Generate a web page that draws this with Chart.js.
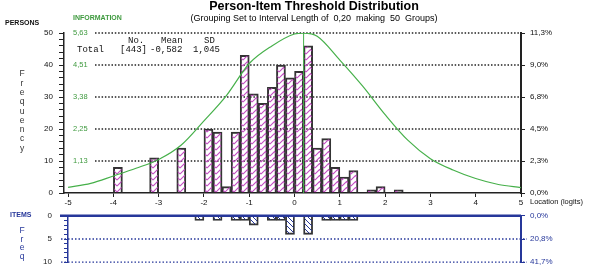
<!DOCTYPE html>
<html lang="en">
<head>
<meta charset="UTF-8">
<title>Person-Item Threshold Distribution</title>
<script src="https://cdn.jsdelivr.net/npm/chart.js"></script>
<style>
  body { margin: 0; background: #fff; }
  #wrap { position: relative; width: 589px; height: 269px; }
  canvas { position: absolute; left: 0; }
  #personsCanvas { top: 0; }
  #itemsCanvas { top: 199px; }
</style>
</head>
<body>
<div id="wrap">
  <canvas id="personsCanvas" width="589" height="269"></canvas>
  <canvas id="itemsCanvas" width="589" height="80"></canvas>
</div>
<script>
// persons: bin centres (interval 0.20 logits) and frequencies
const personLocations = [-3.9, -3.1, -2.5, -1.9, -1.7, -1.5, -1.3, -1.1, -0.9, -0.7, -0.5, -0.3, -0.1, 0.1, 0.3, 0.5, 0.7, 0.9, 1.1, 1.3, 1.7, 1.9, 2.3];
const personCounts = [8, 11, 14, 20, 19, 2, 19, 43, 31, 28, 33, 40, 36, 38, 46, 14, 17, 8, 5, 7, 1, 2, 1];
const personTotal = 443;
const personMean = "-0,582";
const personSD = "1,045";

// items: threshold bin centres and frequencies
const itemLocations = [-2.1, -1.7, -1.3, -1.1, -0.9, -0.5, -0.3, -0.1, 0.3, 0.7, 0.9, 1.1, 1.3];
const itemCounts = [1, 1, 1, 1, 2, 1, 1, 4, 4, 1, 1, 1, 1];
const itemTotal = 24;

// test information curve
const infoLocations = [-5, -4.5, -4, -3.5, -3, -2.5, -2, -1.5, -1, -0.5, 0, 0.2, 0.5, 1, 1.5, 2, 2.5, 3, 3.5, 4, 4.5, 5];
const infoValues = [0.20, 0.34, 0.60, 0.87, 1.18, 1.69, 2.54, 3.44, 4.56, 5.18, 5.60, 5.63, 5.52, 4.68, 3.77, 2.76, 1.86, 1.21, 0.81, 0.51, 0.30, 0.19];
const infoMax = 5.634;
const infoPeak = 0.2;

const FONT = '"Liberation Sans", Arial, sans-serif';
const MONO = '"Liberation Mono", "DejaVu Sans Mono", monospace';
const GREEN = '#46b04a';
const GREEN_TXT = '#3f9a3f';
const NAVY = '#26379a';

function pct(v, total) {
  return (v / total * 100).toFixed(1).replace('.', ',') + '%';
}

function makeHatch(color, kind) {
  const c = document.createElement('canvas');
  const g = c.getContext('2d');
  if (kind === 'chevron') {
    c.width = 9; c.height = 6;
    g.strokeStyle = color;
    g.lineWidth = 1.1;
    g.beginPath();
    for (let oy = -6; oy <= 6; oy += 6) {
      g.moveTo(0, oy + 6); g.lineTo(4.5, oy + 1.5); g.lineTo(9, oy + 6);
    }
    g.stroke();
  } else {
    c.width = 5; c.height = 5;
    g.strokeStyle = color;
    g.lineWidth = 1;
    g.beginPath();
    g.moveTo(-1, -1); g.lineTo(6, 6);
    g.moveTo(-1, 4); g.lineTo(1, 6);
    g.moveTo(4, -1); g.lineTo(6, 1);
    g.stroke();
  }
  return g.createPattern(c, 'repeat');
}

const hatchPink = makeHatch('#c24cc2', 'chevron');
const hatchBlue = makeHatch(NAVY, 'back');

function txt(ctx, s, x, y, font, color, align) {
  ctx.font = font;
  ctx.fillStyle = color;
  ctx.textAlign = align || 'left';
  ctx.textBaseline = 'middle';
  ctx.fillText(s, x, y);
}

const personsDecor = {
  id: 'personsDecor',
  beforeDatasetsDraw(chart) {
    const ctx = chart.ctx, area = chart.chartArea;
    const ys = chart.scales.y, yi = chart.scales.yInfo;
    ctx.save();
    ctx.strokeStyle = '#222';
    ctx.lineWidth = 1.5;
    ctx.setLineDash([1.5, 1.8]);
    for (let v = 10; v <= 50; v += 10) {
      const y = ys.getPixelForValue(v);
      ctx.beginPath();
      ctx.moveTo(95, y);
      ctx.lineTo(area.right - 2, y);
      ctx.stroke();
    }
    ctx.setLineDash([]);
    for (let k = 1; k <= 5; k++) {
      const val = infoMax * k / 5;
      txt(ctx, val.toFixed(2).replace('.', ','), 73, yi.getPixelForValue(val), '7.5px ' + FONT, GREEN_TXT);
    }
    ctx.restore();
  },
  afterDraw(chart) {
    const ctx = chart.ctx;
    ctx.save();
    txt(ctx, 'Person-Item Threshold Distribution', 314, 7, 'bold 12.5px ' + FONT, '#000', 'center');
    txt(ctx, '(Grouping Set to Interval Length of  0,20  making  50  Groups)', 314, 19, '9px ' + FONT, '#000', 'center');
    txt(ctx, 'PERSONS', 5, 23, 'bold 7px ' + FONT, '#111');
    txt(ctx, 'INFORMATION', 73, 18, 'bold 7px ' + FONT, GREEN_TXT);
    const m = '9px ' + MONO;
    txt(ctx, 'No.', 128, 41, m, '#111');
    txt(ctx, 'Mean', 161, 41, m, '#111');
    txt(ctx, 'SD', 204, 41, m, '#111');
    txt(ctx, 'Total', 77, 50, m, '#111');
    txt(ctx, '[' + personTotal + ']', 120, 50, m, '#111');
    txt(ctx, personMean, 150, 50, m, '#111');
    txt(ctx, personSD, 193, 50, m, '#111');
    'Frequency'.split('').forEach((ch, i) => {
      txt(ctx, ch, 22, 74 + i * 9.3, '8.5px ' + FONT, '#333', 'center');
    });
    txt(ctx, 'Location (logits)', 530, 202, '7.5px ' + FONT, '#111');
    ctx.restore();
  }
};

const itemsDecor = {
  id: 'itemsDecor',
  beforeDatasetsDraw(chart) {
    const ctx = chart.ctx, ys = chart.scales.y;
    ctx.save();
    ctx.strokeStyle = NAVY;
    ctx.lineWidth = 1.3;
    ctx.setLineDash([1.5, 2]);
    [5, 10].forEach(v => {
      const y = ys.getPixelForValue(v);
      ctx.beginPath();
      ctx.moveTo(61, y);
      ctx.lineTo(527, y);
      ctx.stroke();
    });
    ctx.restore();
  },
  afterDatasetsDraw(chart) {
    const ctx = chart.ctx, ys = chart.scales.y, area = chart.chartArea;
    const y = ys.getPixelForValue(0);
    ctx.save();
    ctx.strokeStyle = NAVY;
    ctx.lineWidth = 2.5;
    ctx.beginPath();
    ctx.moveTo(60, y);
    ctx.lineTo(area.right, y);
    ctx.stroke();
    ctx.restore();
  },
  afterDraw(chart) {
    const ctx = chart.ctx;
    ctx.save();
    txt(ctx, 'ITEMS', 10, 16, 'bold 7px ' + FONT, NAVY);
    'Freq'.split('').forEach((ch, i) => {
      txt(ctx, ch, 22, 31.7 + i * 8.7, '8.5px ' + FONT, NAVY, 'center');
    });
    ctx.restore();
  }
};

const tickFont = { family: FONT, size: 8 };

new Chart(document.getElementById('personsCanvas'), {
  type: 'bar',
  data: {
    datasets: [
      {
        type: 'line',
        data: infoLocations.map((x, i) => ({ x: x, y: infoValues[i] })),
        yAxisID: 'yInfo',
        borderColor: GREEN,
        borderWidth: 1.2,
        pointRadius: 0,
        cubicInterpolationMode: 'monotone',
        order: 0
      },
      {
        type: 'line',
        data: [{ x: infoPeak, y: 0 }, { x: infoPeak, y: infoMax }],
        yAxisID: 'yInfo',
        borderColor: GREEN,
        borderWidth: 1,
        pointRadius: 0,
        order: 0
      },
      {
        type: 'bar',
        data: personLocations.map((x, i) => ({ x: x, y: personCounts[i] })),
        yAxisID: 'y',
        backgroundColor: hatchPink,
        borderColor: '#333',
        borderWidth: 1.3,
        categoryPercentage: 1,
        barPercentage: 1,
        order: 1
      }
    ]
  },
  options: {
    responsive: false,
    animation: false,
    events: [],
    layout: { padding: { top: 33, bottom: 59, left: 0, right: 0 } },
    plugins: { legend: { display: false }, tooltip: { enabled: false } },
    scales: {
      x: {
        type: 'linear', min: -5.09, max: 5, offset: false,
        ticks: { stepSize: 1, includeBounds: false, color: '#111', font: tickFont, padding: 1, maxRotation: 0 },
        grid: { offset: false, drawOnChartArea: false, tickLength: 4, color: '#222' },
        border: { color: '#222', width: 1.5 },
        afterFit: s => { s.height = 17; }
      },
      y: {
        position: 'left', min: 0, max: 50,
        ticks: { stepSize: 2, autoSkip: false, callback: v => (v % 10 === 0 ? v : ''), color: '#111', font: tickFont, padding: 6 },
        grid: { drawOnChartArea: false, tickLength: 5, color: '#222' },
        border: { color: '#222', width: 1.5 },
        afterFit: s => { s.width = 64; }
      },
      y2: {
        position: 'right', min: 0, max: 50,
        ticks: { stepSize: 10, callback: v => pct(v, personTotal), color: '#111', font: tickFont, padding: 5 },
        grid: { drawOnChartArea: false, tickLength: 4, color: '#222' },
        border: { color: '#222', width: 2 },
        afterFit: s => { s.width = 68; }
      },
      yInfo: { display: false, min: 0, max: infoMax }
    }
  },
  plugins: [personsDecor]
});

new Chart(document.getElementById('itemsCanvas'), {
  type: 'bar',
  data: {
    datasets: [{
      data: itemLocations.map((x, i) => ({ x: x, y: itemCounts[i] })),
      backgroundColor: hatchBlue,
      borderColor: '#333',
      borderWidth: 1.2,
      categoryPercentage: 1,
      barPercentage: 1
    }]
  },
  options: {
    responsive: false,
    animation: false,
    events: [],
    layout: { padding: 0 },
    plugins: { legend: { display: false }, tooltip: { enabled: false } },
    scales: {
      x: { type: 'linear', min: -5, max: 5, offset: false, display: false, grid: { offset: false } },
      y: {
        position: 'left', reverse: true, min: 0, max: 10,
        ticks: { stepSize: 1, autoSkip: false, callback: v => (v % 5 === 0 ? v : ''), color: '#222', font: tickFont, padding: 12 },
        grid: { drawOnChartArea: false, tickLength: 4, color: NAVY },
        border: { color: NAVY, width: 1.5 },
        afterFit: s => { s.width = 68; }
      },
      y2: {
        position: 'right', reverse: true, min: 0, max: 10,
        ticks: { stepSize: 5, callback: v => pct(v, itemTotal), color: NAVY, font: tickFont, padding: 5 },
        grid: { drawOnChartArea: false, tickLength: 4, color: NAVY },
        border: { color: NAVY, width: 2 },
        afterFit: s => { s.width = 68; }
      }
    }
  },
  plugins: [itemsDecor]
});
</script>
</body>
</html>
